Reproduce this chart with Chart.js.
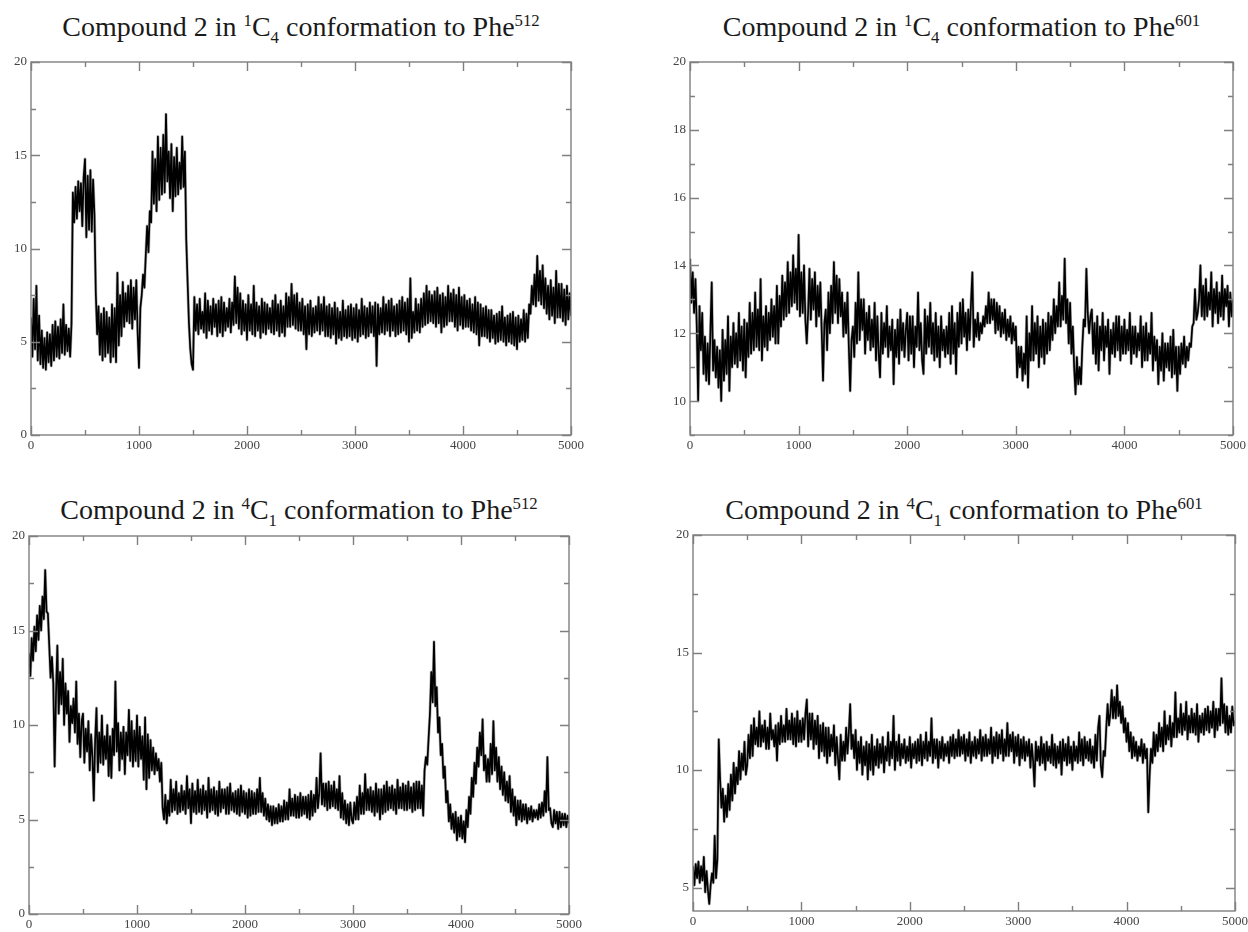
<!DOCTYPE html>
<html>
<head>
<meta charset="utf-8">
<script src="https://cdn.jsdelivr.net/npm/chart.js@4"></script>
<style>
  html, body { margin: 0; padding: 0; background: #fff; }
  body { width: 1248px; height: 932px; position: relative; overflow: hidden; font-family: "Liberation Serif", "Times New Roman", serif; }
  .panel-title { position: absolute; text-align: center; font-size: 28px; line-height: 28px; color: #1a1a1a; white-space: nowrap; }
  .panel-title sup, .panel-title sub { font-size: 60%; line-height: 0; }
  canvas { position: absolute; }
</style>
</head>
<body>
<script>
// Distance traces, one sample every 12.5 frames (0 ... 5000), 20 samples per row
const dist_1C4_Phe512 = [
    6.3, 4.2, 7.3, 4.6, 8.0, 4.0, 6.4, 3.8, 5.6, 3.6, 5.2, 3.5, 5.5, 3.9, 5.4, 3.7, 5.9, 4.0, 6.1, 4.2,
    5.8, 4.1, 6.2, 4.4, 7.0, 4.3, 5.9, 4.5, 5.7, 4.2, 6.0, 13.0, 11.4, 13.3, 11.6, 13.6, 12.0, 13.5, 11.2, 13.8,
    14.8, 10.6, 13.9, 11.0, 14.2, 10.9, 13.7, 11.8, 7.6, 5.4, 6.9, 4.3, 6.5, 4.0, 6.8, 4.2, 6.6, 4.4, 6.3, 3.9,
    7.0, 4.2, 6.8, 3.9, 8.7, 4.8, 7.5, 5.3, 8.2, 5.8, 7.6, 6.1, 8.0, 6.0, 8.3, 5.7, 7.9, 6.2, 8.3, 5.5,
    3.6, 6.8, 7.5, 8.6, 7.9, 9.6, 11.2, 9.8, 12.0, 11.4, 15.2, 12.4, 14.8, 12.0, 16.0, 12.6, 15.4, 12.9, 16.1, 13.0,
    17.2, 13.6, 15.2, 12.7, 15.6, 12.0, 14.9, 12.8, 15.4, 12.9, 14.6, 13.2, 16.0, 13.3, 15.2, 10.5, 8.2, 6.0, 4.6, 3.8,
    3.5, 7.4, 5.6, 7.0, 5.4, 7.3, 5.7, 6.6, 5.5, 7.6, 5.2, 7.2, 5.6, 6.9, 5.4, 7.3, 5.8, 7.0, 5.3, 7.2,
    5.5, 7.4, 5.3, 7.1, 5.6, 6.8, 5.8, 7.3, 5.5, 7.1, 5.9, 8.5, 6.0, 7.9, 5.7, 7.6, 5.4, 7.2, 5.6, 7.0,
    5.1, 7.5, 5.6, 7.0, 5.4, 8.0, 5.3, 7.1, 5.6, 6.9, 5.2, 7.3, 5.5, 7.1, 5.4, 7.0, 5.7, 6.8, 5.5, 7.2,
    5.4, 7.5, 5.6, 7.0, 5.3, 7.2, 5.5, 6.9, 5.3, 7.6, 5.8, 7.4, 5.8, 8.1, 5.9, 7.5, 5.7, 7.6, 5.6, 7.1,
    5.6, 7.3, 5.4, 6.9, 4.6, 7.0, 5.4, 7.2, 5.3, 6.8, 5.5, 6.9, 5.6, 7.4, 5.4, 7.0, 5.6, 7.4, 5.3, 6.9,
    5.3, 7.0, 5.2, 6.8, 5.4, 7.1, 4.9, 6.8, 5.2, 6.6, 5.1, 7.2, 5.3, 6.7, 5.2, 6.9, 5.3, 7.0, 5.1, 6.8,
    5.2, 7.0, 5.0, 6.7, 5.3, 7.3, 5.4, 6.9, 5.2, 6.8, 5.3, 7.1, 5.5, 6.9, 5.3, 7.1, 3.7, 7.0, 5.4, 6.8,
    5.5, 7.4, 5.4, 7.0, 5.6, 7.2, 5.3, 7.3, 5.6, 6.9, 5.3, 7.0, 5.4, 7.2, 5.5, 7.4, 5.6, 7.1, 5.4, 7.3,
    5.0, 8.4, 5.2, 6.6, 5.5, 7.3, 5.6, 7.0, 5.5, 7.3, 5.8, 7.6, 5.9, 8.0, 6.0, 7.7, 6.1, 7.5, 6.0, 7.7,
    5.8, 7.9, 6.0, 7.5, 5.5, 7.6, 5.8, 7.4, 5.9, 8.0, 6.1, 7.6, 6.1, 7.8, 5.8, 7.5, 5.6, 7.9, 5.9, 7.4,
    5.7, 7.5, 5.8, 7.2, 5.8, 7.3, 5.6, 7.0, 5.5, 7.4, 5.4, 7.1, 4.8, 7.0, 5.3, 6.8, 5.3, 6.9, 5.2, 6.7,
    5.0, 6.7, 5.2, 6.4, 4.9, 6.5, 5.0, 6.6, 5.1, 6.9, 5.0, 6.3, 4.8, 6.4, 5.0, 6.5, 4.9, 6.6, 4.8, 6.3,
    4.6, 6.4, 5.0, 6.2, 5.1, 6.7, 5.0, 6.5, 5.2, 7.0, 6.5, 8.0, 7.0, 8.6, 6.9, 9.6, 7.2, 8.8, 7.0, 9.1,
    6.8, 8.4, 6.5, 8.0, 6.2, 8.3, 6.4, 7.9, 6.0, 8.8, 6.3, 8.1, 6.3, 8.1, 6.1, 7.8, 5.9, 8.0, 6.2, 7.6,
    6.4
];

const dist_1C4_Phe601 = [
    14.2, 12.9, 13.8, 12.6, 13.6, 12.2, 10.0, 12.8, 11.5, 12.6, 10.8, 11.9, 10.6, 11.7, 10.5, 12.0, 13.5, 10.9, 11.8, 10.7,
    11.6, 10.4, 11.5, 10.0, 12.1, 10.6, 11.8, 10.8, 12.5, 10.3, 11.9, 11.0, 12.3, 11.1, 12.0, 11.0, 12.6, 11.2, 12.2, 10.9,
    12.4, 10.7, 12.3, 11.3, 12.9, 11.4, 12.6, 11.5, 13.2, 11.6, 12.7, 11.5, 13.6, 11.2, 12.5, 11.6, 12.8, 11.5, 12.6, 11.8,
    13.0, 11.9, 12.8, 11.7, 13.4, 11.7, 13.1, 12.2, 13.7, 12.4, 13.5, 12.5, 14.1, 12.6, 13.8, 12.8, 14.3, 12.9, 13.9, 12.7,
    14.9, 12.5, 13.8, 12.6, 14.0, 12.4, 11.7, 12.6, 13.9, 12.4, 13.6, 12.7, 13.8, 12.2, 13.4, 12.5, 13.5, 12.1, 10.6, 12.3,
    12.7, 11.5, 13.2, 12.0, 13.4, 12.3, 14.1, 12.6, 13.7, 12.3, 13.6, 12.5, 13.2, 11.9, 12.9, 12.0, 13.2, 11.6, 10.3, 11.8,
    12.2, 11.3, 12.9, 11.7, 13.8, 11.8, 13.0, 12.1, 13.0, 11.4, 12.6, 11.8, 12.8, 11.5, 12.4, 11.6, 12.9, 11.2, 12.5, 11.4,
    10.7, 12.6, 11.4, 12.3, 11.6, 12.8, 11.3, 12.2, 11.5, 12.4, 10.5, 12.1, 11.3, 12.4, 11.1, 12.7, 11.5, 12.3, 11.3, 12.1,
    12.6, 11.2, 12.5, 11.4, 12.5, 11.0, 12.2, 11.6, 13.2, 11.5, 12.3, 11.2, 10.8, 12.7, 11.4, 12.5, 11.6, 12.9, 11.4, 12.3,
    11.2, 12.6, 11.3, 12.2, 11.0, 12.5, 11.5, 12.1, 11.3, 12.2, 11.4, 12.6, 11.1, 12.8, 11.4, 12.3, 10.8, 12.6, 11.6, 12.9,
    11.7, 13.0, 11.9, 12.6, 11.5, 12.7, 11.8, 12.9, 13.8, 11.6, 12.4, 11.9, 12.6, 11.8, 12.3, 12.0, 12.5, 12.2, 12.8, 12.3,
    13.2, 12.3, 13.0, 12.4, 13.0, 12.0, 12.9, 12.1, 12.8, 11.9, 12.6, 12.0, 12.7, 11.8, 12.4, 11.9, 12.5, 11.7, 12.3, 11.8,
    12.2, 10.7, 11.6, 11.0, 11.6, 10.6, 11.4, 10.8, 12.5, 10.4, 12.0, 11.2, 12.8, 11.2, 12.3, 11.4, 12.5, 11.0, 12.2, 11.3,
    12.4, 11.1, 12.3, 11.4, 12.6, 11.5, 12.5, 11.8, 13.0, 12.0, 12.8, 12.2, 13.5, 12.2, 13.1, 12.4, 14.2, 12.3, 13.0, 11.7,
    12.9, 11.4, 12.2, 11.0, 10.2, 11.3, 10.5, 11.0, 10.5, 11.6, 12.4, 12.2, 13.9, 12.6, 12.0, 12.5, 12.7, 11.4, 12.3, 11.1,
    12.5, 10.9, 12.2, 11.5, 12.6, 11.2, 12.2, 11.6, 12.4, 10.8, 12.1, 11.4, 12.3, 11.3, 12.5, 11.5, 12.5, 11.2, 12.2, 11.4,
    12.4, 11.4, 12.1, 11.5, 12.6, 11.1, 12.2, 11.4, 12.2, 11.3, 12.0, 11.5, 12.5, 11.0, 12.2, 11.2, 12.3, 11.2, 12.0, 11.4,
    12.6, 10.9, 11.9, 11.2, 11.8, 10.5, 11.6, 10.9, 12.0, 10.6, 11.7, 11.0, 11.7, 10.9, 11.9, 10.7, 12.1, 10.8, 11.6, 10.3,
    11.6, 10.8, 11.7, 11.1, 11.9, 11.0, 11.6, 11.2, 11.7, 11.6, 12.2, 12.3, 13.3, 12.4, 12.6, 13.0, 14.0, 12.5, 13.4, 12.4,
    13.6, 12.5, 13.2, 12.7, 13.8, 12.2, 13.3, 12.6, 13.5, 12.3, 13.2, 12.5, 13.7, 12.4, 13.3, 12.8, 13.4, 12.2, 13.2, 12.5,
    13.0
];

const dist_4C1_Phe512 = [
    13.8, 12.6, 14.6, 13.4, 15.2, 13.9, 15.8, 14.5, 16.3, 15.0, 16.8, 15.6, 18.2, 16.0, 15.9, 14.2, 12.5, 13.6, 12.2, 7.8,
    11.6, 14.2, 10.6, 12.8, 11.1, 13.5, 10.0, 12.2, 10.6, 11.8, 9.1, 11.0, 10.1, 11.4, 9.6, 12.3, 9.0, 10.6, 8.3, 10.2,
    10.6, 8.0, 9.8, 8.6, 10.2, 7.6, 9.5, 8.3, 6.0, 9.2, 10.9, 7.5, 9.6, 8.0, 10.5, 7.9, 9.4, 8.2, 10.0, 7.3,
    9.4, 7.2, 9.8, 8.4, 12.3, 8.6, 10.1, 7.6, 9.6, 8.2, 9.9, 7.4, 9.6, 8.4, 10.8, 8.1, 10.2, 7.8, 9.7, 8.1,
    10.5, 7.8, 9.9, 8.2, 9.4, 7.1, 10.4, 6.6, 9.5, 7.2, 9.2, 7.6, 8.8, 7.4, 8.5, 7.6, 8.2, 7.0, 8.0, 5.6,
    5.0, 6.3, 4.8, 6.0, 5.2, 7.1, 5.4, 6.6, 5.5, 7.0, 5.3, 6.4, 5.4, 6.8, 5.5, 6.5, 5.3, 7.3, 5.6, 6.6,
    4.8, 6.9, 5.4, 6.5, 5.3, 7.1, 5.4, 6.6, 5.3, 6.8, 5.5, 6.5, 5.1, 7.2, 5.4, 6.6, 5.5, 6.7, 5.3, 6.5,
    5.2, 7.0, 5.4, 6.6, 5.6, 6.6, 5.3, 6.7, 5.3, 6.9, 5.5, 6.4, 5.4, 6.5, 5.3, 6.6, 5.2, 6.8, 5.4, 6.5,
    5.3, 6.4, 5.1, 6.6, 5.2, 6.5, 5.3, 6.4, 5.3, 6.6, 5.4, 7.2, 5.4, 6.4, 5.2, 6.1, 5.0, 5.8, 4.9, 5.7,
    4.7, 5.7, 4.8, 5.6, 4.8, 5.8, 4.9, 5.7, 4.9, 6.0, 5.0, 5.9, 5.0, 6.6, 5.2, 6.1, 5.2, 6.3, 5.1, 6.2,
    5.1, 6.4, 5.2, 6.2, 5.3, 6.2, 5.1, 6.3, 5.0, 6.5, 5.2, 6.3, 5.4, 7.2, 5.6, 6.4, 8.5, 5.8, 6.9, 5.7,
    6.9, 5.5, 7.0, 5.6, 6.8, 5.7, 7.0, 5.6, 6.6, 5.5, 7.3, 5.1, 6.4, 5.0, 6.0, 4.8, 5.8, 4.7, 5.9, 5.0,
    4.8, 5.9, 5.0, 6.2, 5.0, 6.8, 5.3, 6.4, 5.3, 7.4, 5.5, 6.6, 5.5, 6.7, 5.4, 6.5, 5.2, 6.9, 5.4, 6.6,
    5.0, 6.6, 5.3, 6.8, 5.4, 7.0, 5.5, 6.7, 5.6, 6.8, 5.5, 6.6, 5.3, 7.1, 5.6, 6.7, 5.6, 6.9, 5.5, 6.8,
    5.5, 7.0, 5.6, 6.7, 5.4, 6.9, 5.5, 7.0, 5.6, 7.0, 5.6, 6.8, 5.2, 7.6, 8.3, 7.9, 9.3, 10.6, 12.8, 11.2,
    14.4, 11.0, 12.0, 9.6, 10.4, 8.4, 9.0, 7.2, 7.8, 5.9, 6.5, 4.9, 5.8, 4.5, 5.3, 4.3, 5.4, 3.9, 5.1, 4.1,
    5.2, 4.0, 4.9, 3.8, 5.5, 4.6, 6.2, 5.3, 7.2, 6.2, 8.0, 6.9, 8.8, 7.8, 9.6, 8.4, 10.3, 7.6, 8.4, 7.0,
    8.2, 7.0, 9.0, 7.4, 10.2, 7.6, 8.8, 7.0, 8.3, 6.6, 7.8, 6.3, 7.5, 6.0, 7.0, 5.9, 7.3, 5.4, 6.6, 5.2,
    6.2, 4.7, 6.0, 5.0, 6.0, 4.9, 5.8, 5.0, 5.8, 4.8, 5.6, 5.0, 5.7, 4.9, 5.5, 5.1, 5.5, 5.0, 5.8, 5.1,
    5.9, 5.2, 6.5, 5.4, 8.3, 5.5, 5.6, 4.8, 4.6, 5.5, 4.8, 5.4, 4.5, 5.4, 4.6, 5.3, 4.7, 5.3, 4.6, 5.2,
    4.8
];

const dist_4C1_Phe601 = [
    5.9, 5.1, 6.0, 5.4, 6.1, 5.2, 5.9, 5.3, 6.3, 4.8, 5.7, 4.9, 4.3, 5.1, 5.6, 5.2, 7.2, 5.4, 6.2, 11.3,
    9.6, 8.4, 9.2, 7.8, 8.9, 8.0, 9.4, 8.3, 9.8, 8.7, 10.3, 9.0, 10.1, 9.4, 10.8, 9.6, 10.7, 10.0, 11.2, 9.8,
    10.2, 11.5, 10.5, 11.9, 10.6, 12.2, 11.1, 11.8, 11.0, 12.5, 11.0, 11.9, 11.2, 12.1, 10.9, 11.8, 10.9, 12.4, 11.3, 11.7,
    11.0, 11.9, 10.4, 12.0, 11.1, 12.3, 11.2, 11.9, 11.2, 12.6, 11.3, 12.1, 11.3, 12.4, 11.1, 12.2, 11.0, 12.5, 11.2, 12.1,
    11.2, 12.2, 11.3, 12.4, 13.0, 11.0, 12.4, 11.3, 12.4, 10.9, 12.1, 11.1, 12.3, 10.5, 11.9, 10.8, 12.0, 10.6, 11.8, 10.3,
    11.8, 10.6, 11.5, 10.8, 11.9, 10.2, 11.4, 10.5, 9.6, 11.5, 10.4, 11.2, 10.4, 11.8, 10.7, 11.6, 12.8, 10.9, 11.5, 10.5,
    11.7, 10.0, 11.2, 10.3, 11.4, 9.8, 11.0, 10.2, 11.2, 9.6, 11.1, 10.0, 11.5, 9.8, 11.0, 10.2, 11.3, 10.1, 11.1, 10.3,
    11.4, 9.9, 11.0, 10.4, 11.6, 10.2, 11.2, 10.5, 12.3, 10.0, 11.2, 10.4, 11.5, 10.2, 11.1, 10.5, 11.3, 10.3, 11.0, 10.4,
    11.4, 10.1, 11.1, 10.5, 11.2, 10.3, 11.3, 10.4, 11.5, 10.2, 11.2, 10.5, 11.6, 10.4, 11.2, 10.6, 12.2, 10.3, 11.3, 10.5,
    11.3, 10.1, 11.2, 10.5, 11.4, 10.4, 11.1, 10.6, 11.2, 10.3, 11.4, 10.6, 11.5, 10.5, 11.3, 10.6, 11.7, 10.6, 11.4, 10.7,
    11.5, 10.4, 11.3, 10.6, 11.6, 10.3, 11.2, 10.6, 11.4, 10.5, 11.3, 10.7, 11.7, 10.4, 11.4, 10.6, 11.5, 10.6, 11.3, 10.7,
    11.8, 10.3, 11.4, 10.6, 11.6, 10.5, 11.5, 10.7, 11.7, 10.4, 11.3, 10.6, 12.0, 10.6, 11.5, 10.8, 11.6, 10.3, 11.4, 10.6,
    11.5, 10.2, 11.3, 10.5, 11.4, 10.4, 11.2, 10.6, 11.3, 10.1, 11.1, 10.4, 9.3, 11.2, 10.4, 11.0, 10.2, 11.4, 10.3, 11.1,
    10.0, 11.2, 10.4, 11.0, 10.3, 11.5, 10.2, 11.1, 10.1, 11.0, 10.3, 11.2, 9.8, 11.3, 10.4, 11.1, 10.2, 11.4, 10.3, 11.0,
    10.0, 11.2, 10.4, 11.0, 10.3, 11.6, 10.4, 11.3, 10.2, 11.4, 10.5, 11.2, 10.4, 11.3, 10.3, 11.0, 10.1, 11.5, 10.4, 11.8,
    12.3, 10.2, 9.7, 10.8, 10.6, 11.8, 12.8, 11.9, 12.4, 13.4, 12.2, 13.1, 12.2, 13.6, 12.3, 12.9, 12.0, 12.7, 11.6, 12.2,
    11.2, 12.0, 10.8, 11.6, 10.5, 11.4, 10.6, 11.2, 10.4, 11.0, 10.6, 11.3, 10.3, 11.1, 10.5, 10.9, 8.2, 9.8, 10.9, 10.3,
    11.6, 10.6, 11.5, 10.8, 12.0, 11.0, 11.8, 10.8, 12.5, 11.1, 11.9, 11.3, 12.3, 11.0, 12.0, 11.4, 13.3, 11.4, 12.2, 11.6,
    12.8, 11.5, 12.4, 11.7, 12.9, 11.3, 12.3, 11.6, 12.6, 11.6, 12.4, 11.5, 12.8, 11.2, 12.3, 11.6, 12.4, 11.5, 12.6, 11.7,
    12.7, 11.6, 12.5, 11.8, 12.9, 11.4, 12.6, 11.7, 12.6, 11.9, 13.9, 12.0, 12.8, 11.6, 12.7, 11.5, 12.3, 11.6, 12.7, 11.9,
    12.1
];

// frame number of each sample
const frameStep = 12.5;

// x axis ticks (frames)
const xRange = { min: 0, max: 5000, major: 1000, minor: 500 };

// title pieces: [ring superscript, ring subscript, residue number]
const titles = [
    ['1', '4', '512'],
    ['1', '4', '601'],
    ['4', '1', '512'],
    ['4', '1', '601']
];

// y axis ranges for each panel
const yRanges = [
    { min: 0, max: 20, major: 5, minor: 2.5 },
    { min: 9, max: 20, major: 2, minor: 1 },
    { min: 0, max: 20, major: 5, minor: 2.5 },
    { min: 4, max: 20, major: 5, minor: 2.5 }
];

// page layout: plot area [left, top, right, bottom], title baseline
const panels = [
    { values: dist_1C4_Phe512, title: titles[0], y: yRanges[0], plot: [31, 62, 571, 435], baseline: 36 },
    { values: dist_1C4_Phe601, title: titles[1], y: yRanges[1], plot: [690, 62, 1233, 435], baseline: 36 },
    { values: dist_4C1_Phe512, title: titles[2], y: yRanges[2], plot: [29, 536, 569, 914], baseline: 519 },
    { values: dist_4C1_Phe601, title: titles[3], y: yRanges[3], plot: [693, 535, 1235, 911], baseline: 519 }
];

// xmgrace-like frame with inward ticks on all four sides
const frameTicks = {
    id: 'frameTicks',
    afterDatasetsDraw(chart, args, opts) {
        const { ctx, chartArea: a } = chart;
        const x = chart.scales.x;
        const y = chart.scales.y;
        const isMajor = (v, step) => Math.abs(v / step - Math.round(v / step)) < 1e-6;

        ctx.save();
        ctx.strokeStyle = '#7f7f7f';
        ctx.lineWidth = 1.4;
        ctx.strokeRect(a.left, a.top, a.right - a.left, a.bottom - a.top);

        ctx.beginPath();
        for (let v = opts.x.min; v <= opts.x.max; v += opts.x.minor) {
            const len = isMajor(v, opts.x.major) ? 9 : 5;
            const px = Math.round(x.getPixelForValue(v)) + 0.5;
            ctx.moveTo(px, a.bottom);
            ctx.lineTo(px, a.bottom - len);
            ctx.moveTo(px, a.top);
            ctx.lineTo(px, a.top + len);
        }
        const start = Math.ceil(opts.y.min / opts.y.minor) * opts.y.minor;
        for (let v = start; v <= opts.y.max + 1e-9; v += opts.y.minor) {
            const len = isMajor(v, opts.y.major) ? 9 : 5;
            const py = Math.round(y.getPixelForValue(v)) + 0.5;
            ctx.moveTo(a.left, py);
            ctx.lineTo(a.left + len, py);
            ctx.moveTo(a.right, py);
            ctx.lineTo(a.right - len, py);
        }
        ctx.stroke();
        ctx.restore();
    }
};

function titleHtml(parts) {
    return `Compound 2 in <sup>${parts[0]}</sup>C<sub>${parts[1]}</sub> conformation to Phe<sup>${parts[2]}</sup>`;
}

function makePanel(p) {
    const [left, top, right, bottom] = p.plot;
    const axisW = Math.min(left, 40);
    const padTop = 14;
    const padRight = Math.min(22, 1248 - right);
    const axisH = Math.min(24, 932 - bottom);

    const title = document.createElement('div');
    title.className = 'panel-title';
    title.style.left = left + 'px';
    title.style.width = (right - left) + 'px';
    title.style.top = (p.baseline - 23) + 'px';
    title.innerHTML = titleHtml(p.title);
    document.body.appendChild(title);

    const canvas = document.createElement('canvas');
    canvas.width = (right - left) + axisW + padRight;
    canvas.height = (bottom - top) + padTop + axisH;
    canvas.style.left = (left - axisW) + 'px';
    canvas.style.top = (top - padTop) + 'px';
    document.body.appendChild(canvas);

    const tickFont = { family: '"Liberation Serif", "Times New Roman", serif', size: 13 };
    const points = p.values.map((v, i) => ({ x: i * frameStep, y: v }));

    new Chart(canvas.getContext('2d'), {
        type: 'line',
        data: {
            datasets: [
                {
                    // dark core of the trace
                    data: points,
                    borderColor: '#000',
                    borderWidth: 1.7,
                    borderJoinStyle: 'round',
                    pointRadius: 0,
                    tension: 0
                },
                {
                    // soft grey fringe underneath
                    data: points,
                    borderColor: '#b4b4b4',
                    borderWidth: 3,
                    borderJoinStyle: 'round',
                    pointRadius: 0,
                    tension: 0
                }
            ]
        },
        options: {
            responsive: false,
            animation: false,
            layout: { padding: { top: padTop, right: padRight, left: 0, bottom: 0 } },
            plugins: {
                legend: { display: false },
                tooltip: { enabled: false },
                frameTicks: { x: xRange, y: p.y }
            },
            scales: {
                x: {
                    type: 'linear',
                    min: xRange.min,
                    max: xRange.max,
                    grid: { display: false, drawTicks: false },
                    border: { display: false },
                    ticks: {
                        stepSize: xRange.major,
                        autoSkip: false,
                        maxRotation: 0,
                        padding: 3,
                        color: '#444',
                        font: tickFont,
                        callback: v => String(v)
                    },
                    afterFit: scale => {
                        scale.height = axisH;
                        scale.paddingLeft = 0;
                        scale.paddingRight = 0;
                    }
                },
                y: {
                    min: p.y.min,
                    max: p.y.max,
                    grid: { display: false, drawTicks: false },
                    border: { display: false },
                    ticks: {
                        stepSize: p.y.major,
                        includeBounds: false,
                        padding: 4,
                        color: '#444',
                        font: tickFont,
                        callback: v => (Math.abs(v % p.y.major) < 1e-9 ? String(v) : '')
                    },
                    afterFit: scale => {
                        scale.width = axisW;
                        scale.paddingTop = 0;
                        scale.paddingBottom = 0;
                    }
                }
            }
        },
        plugins: [frameTicks]
    });
}

panels.forEach(makePanel);
</script>
</body>
</html>
